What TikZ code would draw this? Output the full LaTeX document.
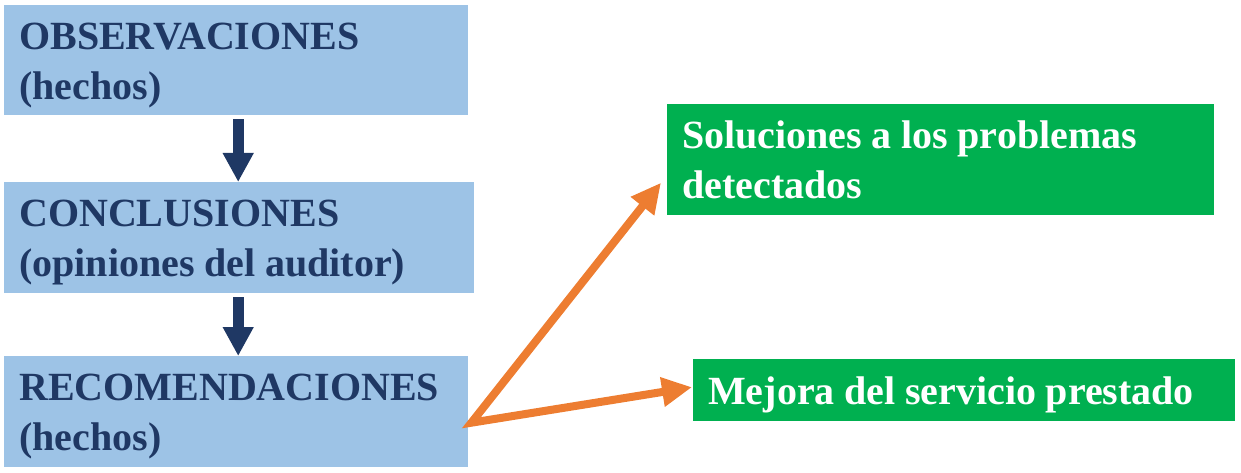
\documentclass[tikz,border=0pt]{standalone}
\usepackage{fontspec}
\setmainfont{Liberation Serif}
\usetikzlibrary{arrows.meta}

\definecolor{boxblue}{HTML}{9DC3E6}
\definecolor{textblue}{HTML}{1F3864}
\definecolor{boxgreen}{HTML}{00B050}
\definecolor{arroworange}{HTML}{ED7D31}

\newcommand{\boxfont}{\fontsize{40}{50}\selectfont\bfseries}

\begin{document}
\begin{tikzpicture}[x=1pt, y=-1pt,
    box/.style={anchor=north west, inner xsep=15pt, inner ysep=0pt, align=left, font=\boxfont,
      execute at begin node={\spaceskip=0.24em plus 0.1em\relax}},
    lowered/.style={execute at begin node={\spaceskip=0.24em plus 0.1em\relax\rule{0pt}{37pt}}},
    bluebox/.style={box, lowered, fill=boxblue, text=textblue},
    greenbox/.style={box, fill=boxgreen, text=white},
    downarrow/.style={draw=textblue, line width=11pt, shorten <=4pt,
      -{Triangle[length=29pt, width=29pt]}},
    orangearrow/.style={draw=arroworange, line width=8pt, line join=miter,
      {Triangle[length=30pt, width=28pt]}-{Triangle[length=30pt, width=28pt]}}]

    \useasboundingbox (0,0) rectangle (1241,473);

    \node (Observaciones) [bluebox, text width=434pt, minimum height=110pt] at (4,5)
      {OBSERVACIONES\\(hechos)};
    \node (Conclusiones) [bluebox, text width=440pt, minimum height=111pt] at (4,182)
      {CONCLUSIONES\\(opiniones del auditor)};
    \node (Recomendaciones) [bluebox, text width=434pt, minimum height=111pt] at (4,356)
      {RECOMENDACIONES\\(hechos)};

    \node (Soluciones) [greenbox, text width=517pt, minimum height=111pt] at (667,104)
      {Soluciones a los problemas\\detectados};
    \node (Mejora) [greenbox, lowered, text width=512pt, minimum height=62pt] at (693,359)
      {Mejora del servicio prestado};

    \coordinate (Fork) at ([shift={(3,11)}]Recomendaciones.east);

    \draw[downarrow] ([xshift=2pt]Observaciones.south) -- ([xshift=2pt]Observaciones.south |- Conclusiones.north);
    \draw[downarrow] ([xshift=2pt]Observaciones.south |- Conclusiones.south) -- ([xshift=2pt]Observaciones.south |- Recomendaciones.north);
    \draw[orangearrow] ([shift={(-6,23)}]Soluciones.west) -- (Fork) -- ([shift={(-1,-3)}]Mejora.west);

\end{tikzpicture}
\end{document}
